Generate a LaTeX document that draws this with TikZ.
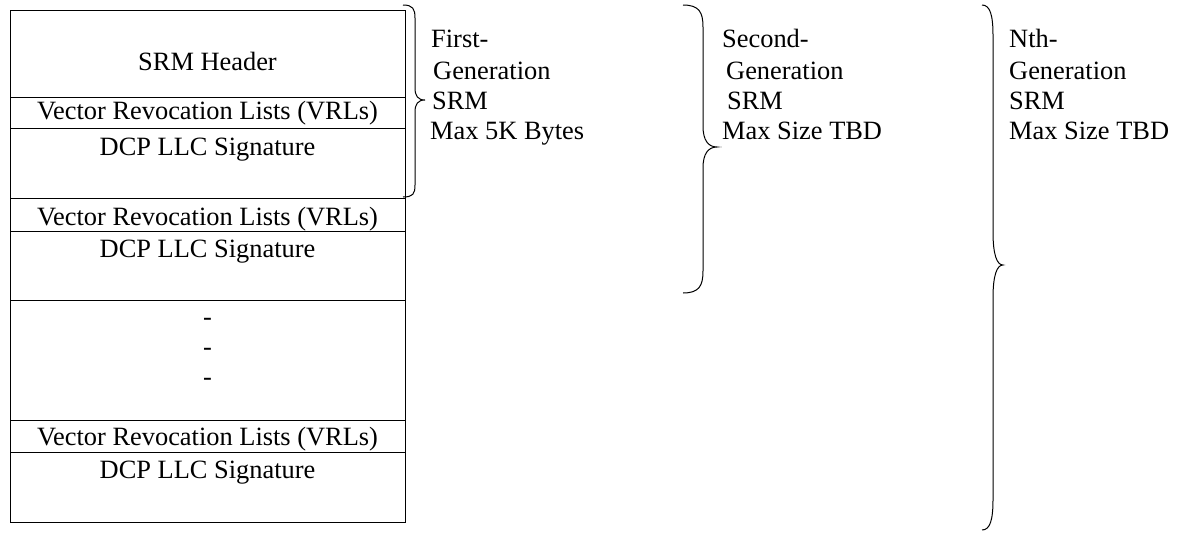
\documentclass[tikz,border=0pt]{standalone}
\usepackage{fontspec}
\setmainfont{Liberation Serif}
\begin{document}
\begin{tikzpicture}[x=1pt,y=-1pt,
  cell/.style={draw=black, line width=1pt},
  brc/.style={draw=black, line width=1pt},
  txt/.style={inner sep=0pt, font=\rmfamily\fontsize{26.4}{30}\selectfont},
  lbl/.style={txt, anchor=base},
  side/.style={txt, anchor=base west}]
\useasboundingbox (0,0) rectangle (1181,533);

% SRM layout: stacked fields
\draw[cell] (10,10)  rectangle (405,97);
\draw[cell] (10,97)  rectangle (405,128);
\draw[cell] (10,128) rectangle (405,198);
\draw[cell] (10,198) rectangle (405,231);
\draw[cell] (10,231) rectangle (405,300);
\draw[cell] (10,300) rectangle (405,420);
\draw[cell] (10,420) rectangle (405,452);
\draw[cell] (10,452) rectangle (405,522);

\node[lbl] (hdr)  at (207.5,70)  {SRM Header};
\node[lbl] (vrl1) at (207.5,119) {Vector Revocation Lists (VRLs)};
\node[lbl] (sig1) at (207.5,155) {DCP LLC Signature};
\node[lbl] (vrl2) at (207.5,225) {Vector Revocation Lists (VRLs)};
\node[lbl] (sig2) at (207.5,257) {DCP LLC Signature};
\node[lbl] (dot1) at (207.5,325) {-};
\node[lbl] (dot2) at (207.5,355) {-};
\node[lbl] (dot3) at (207.5,385) {-};
\node[lbl] (vrl3) at (207.5,445) {Vector Revocation Lists (VRLs)};
\node[lbl] (sig3) at (207.5,478) {DCP LLC Signature};

% generation braces
\draw[brc] (403,5) .. controls (413,5) and (415,9) .. (415,18) -- (415,88)
  .. controls (415,96) and (418,100) .. (425,100)
  .. controls (418,100) and (415,104) .. (415,112) -- (415,185)
  .. controls (415,194) and (413,197) .. (403,197);
\draw[brc] (683,5) .. controls (699,5) and (703,12) .. (703,27) -- (703,126)
  .. controls (703,140) and (708,147) .. (717,147)
  .. controls (708,147) and (703,154) .. (703,168) -- (703,271)
  .. controls (703,286) and (699,293) .. (683,293);
\draw[brc] (982,5) .. controls (990,5) and (993,15) .. (993,35) -- (993,232)
  .. controls (993,255) and (997,265) .. (1003,265)
  .. controls (997,265) and (993,275) .. (993,298) -- (993,500)
  .. controls (993,520) and (990,530) .. (982,530);

% generation labels
\node[side] (g1a) at (431,47)  {First-};
\node[side] (g1b) at (433,79)  {Generation};
\node[side] (g1c) at (432,109) {SRM};
\node[side] (g1d) at (430,139) {Max 5K Bytes};

\node[side] (g2a) at (722,47)  {Second-};
\node[side] (g2b) at (726,79)  {Generation};
\node[side] (g2c) at (727,109) {SRM};
\node[side] (g2d) at (722,139) {Max Size TBD};

\node[side] (g3a) at (1009,47)  {Nth-};
\node[side] (g3b) at (1009,79)  {Generation};
\node[side] (g3c) at (1009,109) {SRM};
\node[side] (g3d) at (1009,139) {Max Size TBD};
\end{tikzpicture}
\end{document}
